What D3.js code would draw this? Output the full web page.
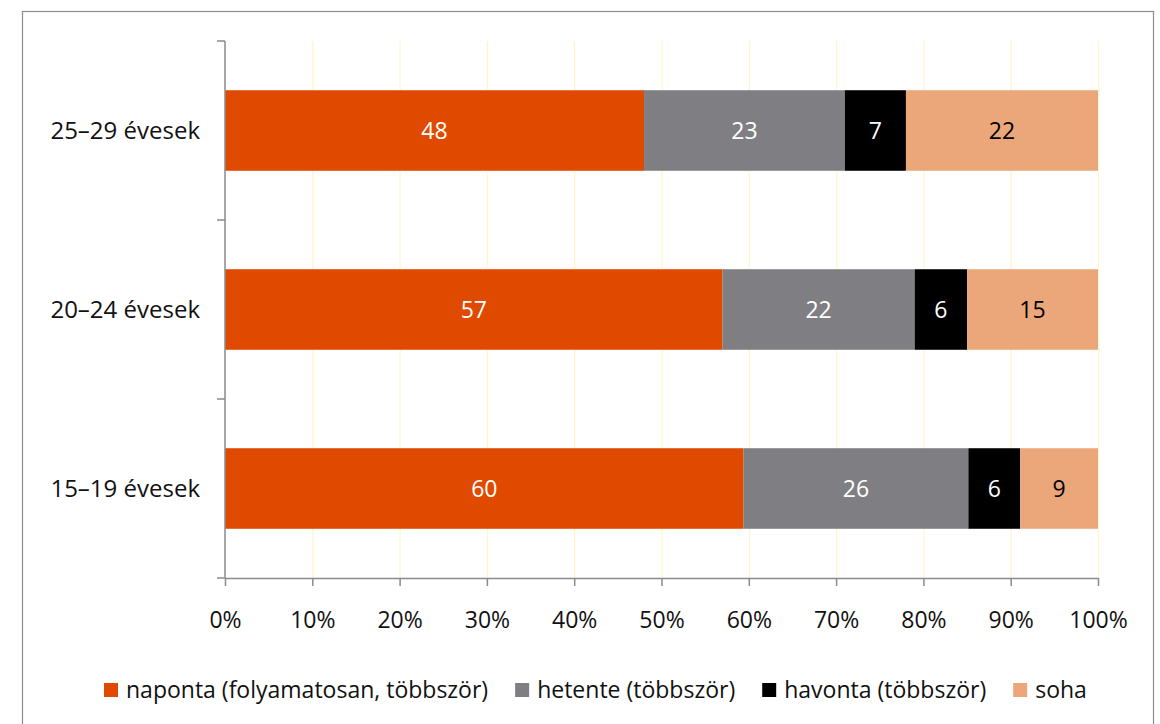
<!DOCTYPE html>
<html>
<head>
<meta charset="utf-8">
<script src="https://cdn.jsdelivr.net/npm/d3@7"></script>
<style>
  html, body { margin: 0; padding: 0; background: #fff; }
  svg { display: block; font-family: "Open Sans", sans-serif; }
</style>
</head>
<body>
<svg id="chart" width="1160" height="724"></svg>
<script>
// Age groups, top to bottom
const categories = ["25–29 évesek", "20–24 évesek", "15–19 évesek"];
// Frequency answers (stack order, left to right)
const seriesNames = ["naponta (folyamatosan, többször)", "hetente (többször)", "havonta (többször)", "soha"];
const naponta = [48, 57, 60];
const hetente = [23, 22, 26];
const havonta = [7, 6, 6];
const soha = [22, 15, 9];
const tickLabels = ["0%", "10%", "20%", "30%", "40%", "50%", "60%", "70%", "80%", "90%", "100%"];

const colors = ["#e04a00", "#7f7f83", "#000000", "#eba779"];
const labelColors = ["#ffffff", "#ffffff", "#ffffff", "#000000"];
const FONT = 23;

const svg = d3.select("#chart");

// Outer frame
svg.append("rect")
  .attr("x", 22.5).attr("y", 11.5)
  .attr("width", 1131).attr("height", 720)
  .attr("fill", "none").attr("stroke", "#8c8c8c").attr("stroke-width", 1.2);

const plot = { left: 225, right: 1098, top: 41, bottom: 578 };

const rows = categories.map((c, i) => ({
  cat: c,
  values: [naponta[i], hetente[i], havonta[i], soha[i]]
}));

const x = d3.scaleLinear().domain([0, 1]).range([plot.left, plot.right]);
const yBand = d3.scaleBand().domain(categories).range([plot.top, plot.bottom]).paddingInner(0.55).paddingOuter(0.275);
const yEdges = d3.scaleBand().domain(categories).range([plot.top, plot.bottom]);

// Vertical gridlines
svg.append("g").selectAll("line")
  .data(d3.range(1, 11))
  .join("line")
  .attr("x1", d => x(d / 10) + 0.5).attr("x2", d => x(d / 10) + 0.5)
  .attr("y1", plot.top).attr("y2", plot.bottom)
  .attr("stroke", "#fff6cc").attr("stroke-width", 1.3);

// Bars stacked as a share of each row's total
rows.forEach(r => {
  const total = d3.sum(r.values);
  let acc = 0;
  r.values.forEach((v, k) => {
    const x0 = x(acc / total), x1 = x((acc + v) / total);
    acc += v;
    svg.append("rect")
      .attr("x", x0).attr("y", yBand(r.cat))
      .attr("width", x1 - x0).attr("height", yBand.bandwidth())
      .attr("fill", colors[k]);
    svg.append("text")
      .attr("x", (x0 + x1) / 2).attr("y", yBand(r.cat) + yBand.bandwidth() / 2)
      .attr("dy", "0.35em").attr("text-anchor", "middle")
      .attr("font-size", FONT).attr("fill", labelColors[k])
      .text(v);
  });
});

// Category axis
const yAxisG = svg.append("g").attr("stroke", "#8a8a8a").attr("stroke-width", 1.5);
yAxisG.append("line").attr("x1", plot.left).attr("x2", plot.left).attr("y1", plot.top).attr("y2", plot.bottom);
const edges = categories.map(c => yEdges(c)).concat([plot.bottom]);
yAxisG.selectAll(".tk").data(edges).join("line")
  .attr("x1", plot.left - 8).attr("x2", plot.left)
  .attr("y1", d => d).attr("y2", d => d);

svg.append("g").selectAll("text").data(categories).join("text")
  .attr("x", 200).attr("y", c => yBand(c) + yBand.bandwidth() / 2)
  .attr("dy", "0.35em").attr("text-anchor", "end")
  .attr("font-size", 24).attr("fill", "#111")
  .text(c => c);

// Value axis
const xAxis = d3.axisBottom(x)
  .tickValues(d3.range(0, 11).map(d => d / 10))
  .tickFormat((d, i) => tickLabels[i])
  .tickSize(8).tickSizeOuter(0).tickPadding(26);
const xg = svg.append("g").attr("transform", `translate(0,${plot.bottom})`).call(xAxis);
xg.select(".domain").attr("stroke", "#8a8a8a").attr("stroke-width", 1.5);
xg.selectAll(".tick line").attr("stroke", "#8a8a8a").attr("stroke-width", 1.5);
xg.selectAll(".tick text").attr("font-size", FONT).attr("fill", "#111").attr("font-family", "'Open Sans', sans-serif");

// Legend laid out left to right from measured text widths
const lg = svg.append("g");
let lx = 104;
seriesNames.forEach((name, k) => {
  lg.append("rect").attr("x", lx).attr("y", 683).attr("width", 14).attr("height", 14).attr("fill", colors[k]);
  const t = lg.append("text").attr("x", lx + 22).attr("y", 690).attr("dy", "0.35em")
    .attr("font-size", FONT).attr("fill", "#111").text(name);
  lx += 22 + t.node().getComputedTextLength() + 27;
});
</script>
</body>
</html>
